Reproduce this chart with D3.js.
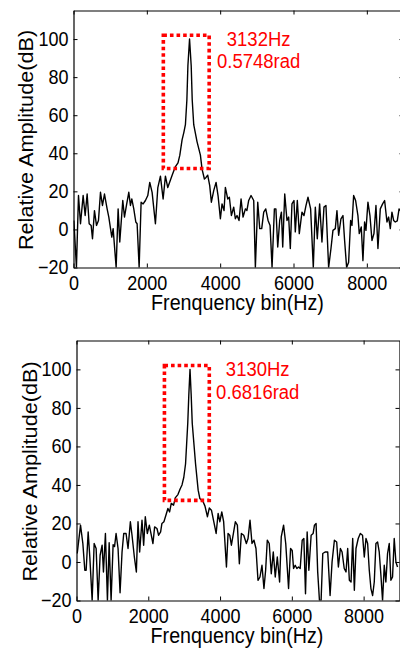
<!DOCTYPE html>
<html>
  <head>
    <meta charset="utf-8">
    <script src="https://d3js.org/d3.v7.min.js"></script>
    <style>
      body { margin: 0; background: white; }
      svg { display: block; }
      text { font-family: 'Liberation Sans', Arial, sans-serif; }
    </style>
  </head>
  <body>
    <div id="chart"></div>
    <script>
      // [frequency (Hz), relative amplitude (dB)]
      const topSpectrum = [
        [10, 4.7], [80, -20], [136, 17.8], [191, 3.0], [263, 17.8], [318, 7.3], [372, 18.6], [427, 3.0],
        [481, 2.1], [518, -4.9], [572, 9.9], [627, 2.1], [681, 4.7], [736, 19.5], [790, 12.6], [845, 18.6],
        [917, 10.8], [963, 6.5], [1044, -4], [1081, 0.4], [1163, -20], [1217, 10.8], [1262, -6.6], [1344, 15.2],
        [1390, 6.5], [1444, 12.6], [1508, 19.5], [1553, 12.6], [1590, 16], [1644, 10.8], [1699, 3.9], [1735, 3.0],
        [1790, -20], [1844, 14.3], [1899, 13.4], [1962, 15.2], [2026, 17.8], [2080, 24.7], [2144, 19.5], [2234, 3.0],
        [2300, 22], [2371, 28], [2444, 16], [2507, 28], [2571, 22], [2644, 26], [2700, 29], [2780, 33],
        [2850, 35], [2900, 39], [2961, 47], [3010, 51], [3052, 55], [3092, 68], [3120, 86], [3165, 100],
        [3210, 86], [3238, 68], [3279, 55], [3370, 46], [3461, 39], [3506, 31.7], [3570, 26.5], [3615, 27.3],
        [3660, 28.5], [3715, 23], [3760, 14.3], [3824, 20.4], [3888, 24.7], [3942, 17.8], [4006, 5.6], [4051, 13.4],
        [4106, 9.9], [4142, 22.1], [4206, 16], [4251, 16.9], [4306, 7.3], [4369, 11.7], [4414, 5.6], [4460, 7.3],
        [4515, 4.7], [4570, 16], [4624, 6.5], [4688, 10.8], [4730, 10], [4778, 15.2], [4842, 17.8], [4915, 15.2],
        [4960, -20], [5025, 14.3], [5079, 0.4], [5133, 0.4], [5188, 9.1], [5243, 10.8], [5306, 4.7], [5361, 2.1],
        [5415, -20], [5479, 10.8], [5520, 10.8], [5570, -9.2], [5624, 4.7], [5670, 9.1], [5706, -9.2], [5761, 18.6],
        [5822, 4.7], [5868, 6.5], [5913, -10], [5958, 13.4], [6013, 15.2], [6049, -1.3], [6104, 15.2], [6158, -2.2],
        [6231, 9.1], [6286, 7.3], [6340, 12.5], [6395, 16.9], [6467, 10.8], [6540, -20], [6595, 11.7], [6649, -4.9],
        [6713, 13.4], [6776, -6.6], [6831, 11.7], [6885, 12.6], [6958, -20], [7022, -10], [7076, -0.5], [7140, 0.4],
        [7185, 9.9], [7231, -3.1], [7294, 5.6], [7349, 7.3], [7394, -5.8], [7449, -20], [7503, -17.3], [7558, 4.7],
        [7594, 2.1], [7640, 17.8], [7694, 15.2], [7757, 7.3], [7794, -2.2], [7848, 1.3], [7894, -16.4], [7939, 3.9],
        [7976, -0.5], [8030, 14.3], [8085, 7.3], [8140, -5.8], [8194, -2.2], [8249, 12.6], [8303, -10], [8367, 10.8],
        [8431, 13.4], [8485, 15.2], [8549, 3.9], [8594, 6.5], [8640, 0.4], [8685, 9.1], [8731, 4.7], [8776, 3.9],
        [8830, 4.5], [8879, 10.8], [8950, 9]
      ]
      const bottomSpectrum = [
        [20, 4.4], [112, 19.1], [177, 9.6], [232, -4.3], [269, -4.3], [325, 15.6], [371, 2.6], [436, -20],
        [492, 9.6], [547, 7.0], [603, -20], [658, 3.5], [714, 8.7], [751, -5.2], [806, 14.8], [862, -20],
        [910, 10], [964, -20], [1020, 9], [1060, 8], [1103, 14.8], [1158, 7], [1214, -16], [1269, 5.2],
        [1316, 14.8], [1381, 14.8], [1436, 7.0], [1501, 20.9], [1547, 13.9], [1612, 2.6], [1668, -5.2], [1714, 20.9],
        [1760, 5.2], [1825, 21.7], [1871, 8.7], [1917, 23.5], [1973, 14.8], [2029, 19.1], [2084, 13.9], [2130, 9.6],
        [2177, 18.2], [2242, 17.4], [2288, 13.9], [2344, 15.6], [2380, 20], [2436, 20.9], [2491, 24.3], [2547, 27.8],
        [2594, 26], [2640, 30.4], [2705, 29.5], [2751, 33.3], [2826, 35], [2890, 38], [2940, 40], [2990, 44],
        [3039, 51], [3100, 72], [3130, 87], [3163, 100], [3195, 87], [3225, 72], [3317, 51], [3390, 37.3],
        [3436, 33], [3528, 31.3], [3580, 29], [3649, 23.5], [3700, 28], [3760, 26.9], [3825, 20.9], [3891, 14.8],
        [3946, 25.2], [3995, 20.9], [4048, 26], [4100, 20.9], [4178, -2.6], [4223, 14.8], [4270, 13.9], [4316, 8.7],
        [4372, 14.8], [4427, 20.9], [4483, 19.1], [4538, -0.9], [4594, 14.8], [4660, 13.9], [4733, 9.6], [4780, 12.2],
        [4835, 21.7], [4890, 9.6], [4945, 11.3], [5001, 7], [5057, -9.5], [5112, -7.8], [5168, -1.7], [5223, -13.8],
        [5270, -4.3], [5316, 11.3], [5370, 9.6], [5427, -6.1], [5483, 5.2], [5538, -7.8], [5595, 2.6], [5659, -10.4],
        [5705, 13], [5770, 19.1], [5830, 9.6], [5909, -13.8], [5965, 7], [6010, 6], [6048, -3.4], [6094, -1.7],
        [6140, -3.4], [6187, -2.6], [6233, -3.4], [6289, 11.3], [6335, 12.2], [6381, -16.5], [6427, 15.6], [6474, -4.3],
        [6538, 13.9], [6594, 14.8], [6630, 19.1], [6676, 20], [6720, -5], [6770, -20], [6815, -20], [6862, 4.4],
        [6927, 5.2], [7000, 5.2], [7066, -17.4], [7121, 0], [7186, 11.3], [7250, 10.4], [7297, -2.6], [7353, 7],
        [7400, 5.2], [7460, -3.4], [7510, -5.2], [7556, 7], [7603, -9.5], [7650, -10.4], [7696, 12.2], [7742, -14.7],
        [7788, 7], [7850, 12.2], [7908, 14.8], [7970, 13.9], [8019, 2.6], [8066, 12.2], [8112, 9.6], [8158, -4.3],
        [8204, -13.8], [8251, -17.4], [8297, -10.4], [8343, 9.6], [8389, 10.4], [8435, 5.2], [8482, -6.9], [8528, -20],
        [8575, -1.7], [8620, -10.4], [8667, 4.4], [8714, 9.6], [8760, -9.5], [8806, -7.8], [8853, 12.2], [8900, 0],
        [8945, -2.6]
      ]
      const xTicks = [0, 2000, 4000, 6000, 8000]
      const yTicks = [-20, 0, 20, 40, 60, 80, 100]
      const boxHz = [2450, 3700]   // dotted box round the peak
      const boxDb = [32, 102]
      const peakFreq = ['3132Hz', '3130Hz']
      const peakPhase = ['0.5748rad', '0.6816rad']
      const noteAt = [5050, 96.5]  // Hz, dB of first text line

      const sy = 1.1 // the picture is a bit stretched vertically

      const svg = d3.select('#chart').append('svg')
        .attr('width', 400)
        .attr('height', 648)

      const panels = [
        {data: topSpectrum, left: 73.5, right: 403.5, top: 10.5, bottom: 267.5, ylabX: 33},
        {data: bottomSpectrum, left: 76.5, right: 399.5, top: 340.5, bottom: 600.5, ylabX: 36.5},
      ]

      panels.forEach((p, i) => {
        const x = d3.scaleLinear().domain([0, 9000]).range([p.left, p.right])
        const y = d3.scaleLinear().domain([-20, 115]).range([p.bottom, p.top])
        const g = svg.append('g')

        g.append('clipPath').attr('id', 'clip' + i)
          .append('rect')
          .attr('x', p.left).attr('y', p.top)
          .attr('width', p.right - p.left).attr('height', p.bottom - p.top)

        // spectrum line
        g.append('path')
          .datum(p.data)
          .attr('clip-path', `url(#clip${i})`)
          .attr('fill', 'none')
          .attr('stroke', 'black')
          .attr('stroke-width', 1.4)
          .attr('stroke-linejoin', 'round')
          .attr('d', d3.line().x(d => x(d[0])).y(d => y(d[1])))

        // matlab style box, ticks inside on all sides
        const styleAxis = (sel) => {
          sel.selectAll('path, line').attr('stroke', 'black').attr('stroke-width', 1)
          sel.selectAll('text')
            .attr('fill', 'black')
            .style('font-size', '18px')
            .attr('transform', `scale(1,${sy})`)
        }
        g.append('g').attr('transform', `translate(0,${p.bottom})`)
          .call(d3.axisBottom(x).tickValues(xTicks).tickFormat(d3.format('d'))
            .tickSizeInner(-4).tickSizeOuter(0).tickPadding(8))
          .call(styleAxis)
        g.append('g').attr('transform', `translate(0,${p.top})`)
          .call(d3.axisTop(x).tickValues(xTicks).tickFormat('').tickSizeInner(-4).tickSizeOuter(0))
          .call(styleAxis)
        g.append('g').attr('transform', `translate(${p.left},0)`)
          .call(d3.axisLeft(y).tickValues(yTicks).tickFormat(d3.format('d'))
            .tickSizeInner(-4).tickSizeOuter(0).tickPadding(5))
          .call(styleAxis)
        g.append('g').attr('transform', `translate(${p.right},0)`)
          .call(d3.axisRight(y).tickValues(yTicks).tickFormat('').tickSizeInner(-4).tickSizeOuter(0))
          .call(styleAxis)
        g.selectAll('.domain').attr('stroke-width', 1.2)

        // axis labels
        g.append('text')
          .attr('transform', `translate(${(p.left + p.right) / 2 - 1},${p.bottom + 42}) scale(1,${sy})`)
          .attr('text-anchor', 'middle')
          .style('font-size', '19.7px')
          .text('Frenquency bin(Hz)')
        g.append('text')
          .attr('transform', `translate(${p.ylabX},${(p.top + p.bottom) / 2 + 1}) rotate(-90) scale(${sy},1)`)
          .attr('text-anchor', 'middle')
          .style('font-size', '19.7px')
          .text('Relative Amplitude(dB)')

        // red dotted box + peak text
        g.append('rect')
          .attr('x', x(boxHz[0])).attr('y', y(boxDb[1]))
          .attr('width', x(boxHz[1]) - x(boxHz[0]))
          .attr('height', y(boxDb[0]) - y(boxDb[1]))
          .attr('fill', 'none')
          .attr('stroke', '#ff0000')
          .attr('stroke-width', 3.6)
          .attr('stroke-dasharray', '3.6 3')

        const note = g.append('g')
          .attr('transform', `translate(${x(noteAt[0])},${y(noteAt[1])}) scale(1,${sy})`)
          .attr('fill', '#ff0000')
          .style('font-size', '18.5px')
          .attr('text-anchor', 'middle')
        note.append('text').text(peakFreq[i])
        note.append('text').attr('y', 20.5).text(peakPhase[i])
      })
    </script>
  </body>
</html>
